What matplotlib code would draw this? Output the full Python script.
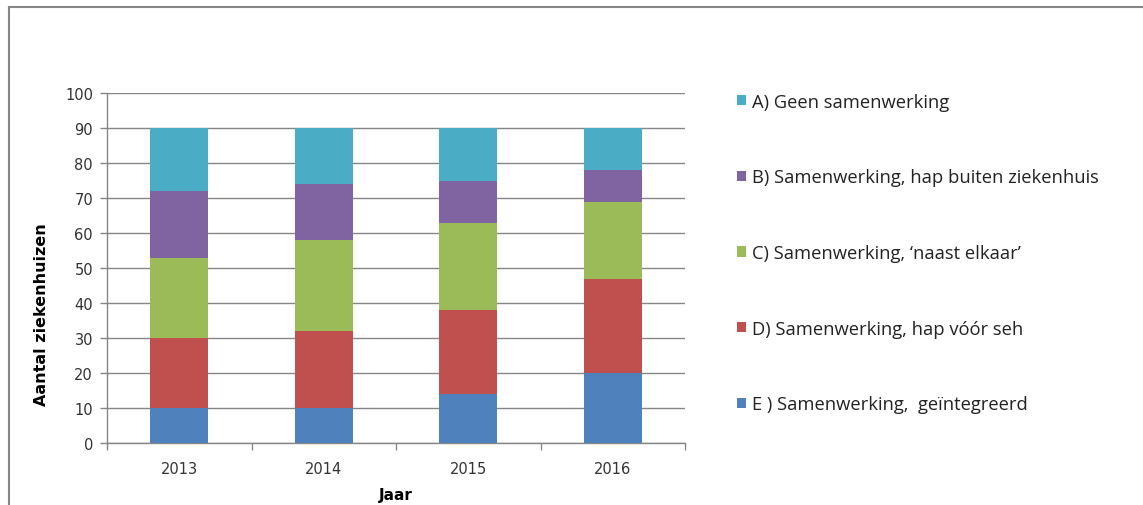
import numpy as np
import matplotlib
matplotlib.use("Agg")
from matplotlib import pyplot as plt
from matplotlib.lines import Line2D

jaren = ["2013", "2014", "2015", "2016"]
labels = ["E ) Samenwerking,  geïntegreerd",
          "D) Samenwerking, hap vóór seh",
          "C) Samenwerking, \u2018naast elkaar\u2019",
          "B) Samenwerking, hap buiten ziekenhuis",
          "A) Geen samenwerking"]
e_vals = [10, 10, 14, 20]
d_vals = [20, 22, 24, 27]
c_vals = [23, 26, 25, 22]
b_vals = [19, 16, 12, 9]
a_vals = [18, 16, 15, 12]
kleuren = ["#4f81bd", "#c0504d", "#9bbb59", "#8064a2", "#4bacc6"]

grijs = "#868686"

fig = plt.figure(figsize=(11.43, 5.06), dpi=100)
ax = fig.add_axes([107 / 1143, 1 - 444 / 506, 578 / 1143, 350 / 506])

x = np.arange(len(jaren))
bottom = np.zeros(len(jaren))
bars = []
for vals, kleur in zip([e_vals, d_vals, c_vals, b_vals, a_vals], kleuren):
    b = ax.bar(x, vals, width=0.4, bottom=bottom, color=kleur, zorder=3)
    bars.append(b)
    bottom += np.array(vals)

ax.set_xlim(-0.5, 3.5)
ax.set_ylim(0, 100)
ax.set_yticks(range(0, 101, 10))
ax.set_xticks(x)
ax.set_xticklabels(jaren)
ax.set_xticks(np.arange(-0.5, 4, 1), minor=True)
ax.tick_params(axis="x", which="major", length=0, pad=13, labelsize=10.5, colors="#333333")
ax.tick_params(axis="x", which="minor", length=5, color=grijs, width=1)
ax.tick_params(axis="y", length=5, color=grijs, width=1, labelsize=10.5, pad=5, labelcolor="#333333")
ax.grid(axis="y", color=grijs, linewidth=1, zorder=0)
for s in ["top", "right"]:
    ax.spines[s].set_visible(False)
for s in ["left", "bottom"]:
    ax.spines[s].set_color(grijs)
    ax.spines[s].set_linewidth(1)

ax.set_ylabel("Aantal ziekenhuizen", fontsize=11.5, fontweight="bold")
ax.yaxis.set_label_coords(-0.1, 0.37)
ax.set_xlabel("Jaar", fontsize=11, fontweight="bold", labelpad=8)

leg = fig.legend([bars[i] for i in range(4, -1, -1)], [labels[i] for i in range(4, -1, -1)],
                 loc="upper left", bbox_to_anchor=(720 / 1143, 1 - 77 / 506),
                 frameon=False, handlelength=0.5, handleheight=0.5, handletextpad=0.35,
                 labelspacing=3.15, prop={"family": "Open Sans", "size": 13.2})
for t in leg.get_texts():
    t.set_color("#222222")

# rand van de grafiek
fig.add_artist(Line2D([9 / 1143, 1], [1 - 8 / 506, 1 - 8 / 506], transform=fig.transFigure,
                      color=grijs, linewidth=1.5))
fig.add_artist(Line2D([9 / 1143, 9 / 1143], [0, 1 - 8 / 506], transform=fig.transFigure,
                      color=grijs, linewidth=1.5))

fig.savefig("out.png", dpi=100)
